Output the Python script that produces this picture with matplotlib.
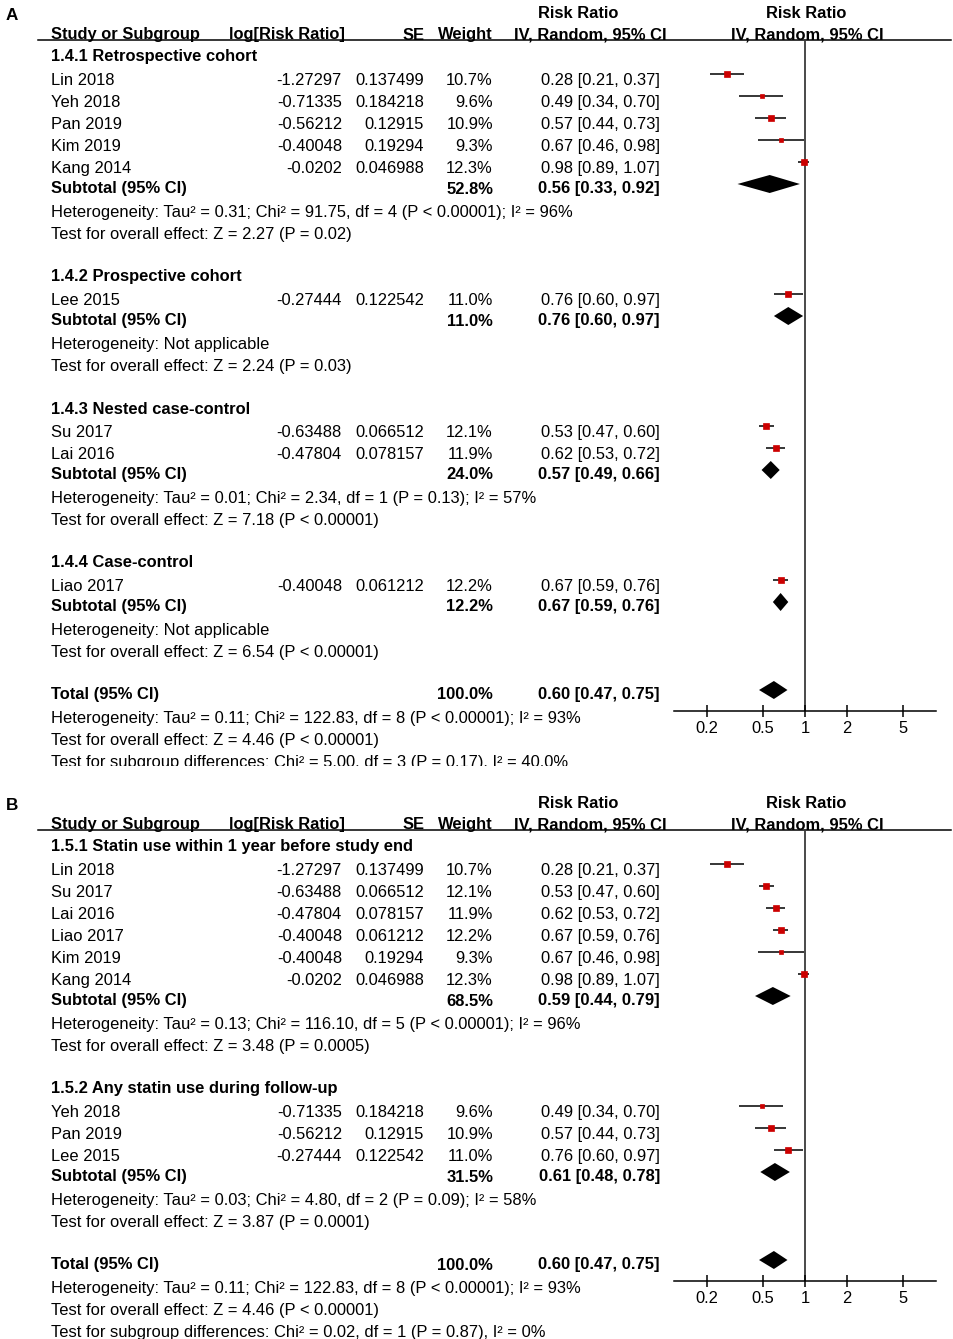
import matplotlib
matplotlib.use("Agg")
import matplotlib.pyplot as plt
from matplotlib.ticker import NullLocator

plt.rcParams['font.family'] = ['Liberation Sans', 'DejaVu Sans']
FS = 11.85
W, H = 954, 1339
ROW = 22.0          # pixels between rows
MARK_DY = -3.0 / ROW

# the nine studies (used by both panels)
studies = ["Lin 2018", "Yeh 2018", "Pan 2019", "Kim 2019", "Kang 2014",
           "Lee 2015", "Su 2017", "Lai 2016", "Liao 2017"]
log_rr = ["-1.27297", "-0.71335", "-0.56212", "-0.40048", "-0.0202",
          "-0.27444", "-0.63488", "-0.47804", "-0.40048"]
se = ["0.137499", "0.184218", "0.12915", "0.19294", "0.046988",
      "0.122542", "0.066512", "0.078157", "0.061212"]
weight = [10.7, 9.6, 10.9, 9.3, 12.3, 11.0, 12.1, 11.9, 12.2]
rr = [0.28, 0.49, 0.57, 0.67, 0.98, 0.76, 0.53, 0.62, 0.67]
rr_lo = [0.21, 0.34, 0.44, 0.46, 0.89, 0.60, 0.47, 0.53, 0.59]
rr_hi = [0.37, 0.70, 0.73, 0.98, 1.07, 0.97, 0.60, 0.72, 0.76]

# panel A: by study design
a_titles = ["1.4.1 Retrospective cohort", "1.4.2 Prospective cohort",
            "1.4.3 Nested case-control", "1.4.4 Case-control"]
a_members = [["Lin 2018", "Yeh 2018", "Pan 2019", "Kim 2019", "Kang 2014"],
             ["Lee 2015"], ["Su 2017", "Lai 2016"], ["Liao 2017"]]
a_sub_w = ["52.8%", "11.0%", "24.0%", "12.2%"]
a_sub_rr = [0.56, 0.76, 0.57, 0.67]
a_sub_lo = [0.33, 0.60, 0.49, 0.59]
a_sub_hi = [0.92, 0.97, 0.66, 0.76]
a_het = ["Heterogeneity: Tau² = 0.31; Chi² = 91.75, df = 4 (P < 0.00001); I² = 96%",
         "Heterogeneity: Not applicable",
         "Heterogeneity: Tau² = 0.01; Chi² = 2.34, df = 1 (P = 0.13); I² = 57%",
         "Heterogeneity: Not applicable"]
a_z = ["Test for overall effect: Z = 2.27 (P = 0.02)",
       "Test for overall effect: Z = 2.24 (P = 0.03)",
       "Test for overall effect: Z = 7.18 (P < 0.00001)",
       "Test for overall effect: Z = 6.54 (P < 0.00001)"]
a_subgroup = "Test for subgroup differences: Chi² = 5.00, df = 3 (P = 0.17), I² = 40.0%"

# panel B: by statin exposure window
b_titles = ["1.5.1 Statin use within 1 year before study end",
            "1.5.2 Any statin use during follow-up"]
b_members = [["Lin 2018", "Su 2017", "Lai 2016", "Liao 2017", "Kim 2019", "Kang 2014"],
             ["Yeh 2018", "Pan 2019", "Lee 2015"]]
b_sub_w = ["68.5%", "31.5%"]
b_sub_rr = [0.59, 0.61]
b_sub_lo = [0.44, 0.48]
b_sub_hi = [0.79, 0.78]
b_het = ["Heterogeneity: Tau² = 0.13; Chi² = 116.10, df = 5 (P < 0.00001); I² = 96%",
         "Heterogeneity: Tau² = 0.03; Chi² = 4.80, df = 2 (P = 0.09); I² = 58%"]
b_z = ["Test for overall effect: Z = 3.48 (P = 0.0005)",
       "Test for overall effect: Z = 3.87 (P = 0.0001)"]
b_subgroup = "Test for subgroup differences: Chi² = 0.02, df = 1 (P = 0.87), I² = 0%"

# overall (same in both panels)
tot_w = "100.0%"
tot_rr, tot_lo, tot_hi = 0.60, 0.47, 0.75
tot_het = "Heterogeneity: Tau² = 0.11; Chi² = 122.83, df = 8 (P < 0.00001); I² = 93%"
tot_z = "Test for overall effect: Z = 4.46 (P < 0.00001)"

xticks = [0.2, 0.5, 1, 2, 5]
xtick_labels = ["0.2", "0.5", "1", "2", "5"]

# column x positions (pixels)
X_NAME, X_LOG, X_SE, X_W, X_CI = 51, 342, 424, 493, 660
RED = "#cc0000"


def ci_text(r, l, h):
    return f"{r:.2f} [{l:.2f}, {h:.2f}]"


def diamond(ax, r, l, h, y):
    hh = 9.0 / ROW
    ax.fill([l, r, h, r], [y, y - hh, y, y + hh], color="black", lw=0, zorder=3)


def draw_panel(fig, label, top, bottom, y0, titles, members, sub_w,
               sub_rr, sub_lo, sub_hi, het, zs, subgroup):
    tax = fig.add_axes([0, 1 - bottom / H, 1, (bottom - top) / H])
    tax.set_xlim(0, W)
    tax.set_ylim((bottom - y0) / ROW, (top - y0) / ROW)
    tax.axis("off")

    def txt(x, r, s, ha="left", bold=False):
        dy = (2.0 if bold else 3.5) / ROW
        tax.text(x, r + dy, s, ha=ha, va="center", fontsize=FS,
                 fontweight="bold" if bold else "normal", clip_on=True)

    n_rows = sum(len(m) + 5 for m in members)
    ft = y0 - 15
    fb = y0 + ROW * n_rows + 18
    fax = fig.add_axes([674 / W, 1 - fb / H, (936 - 674) / W, (fb - ft) / H])
    fax.set_xscale("log")
    fax.set_xlim(0.1163, 8.6)
    fax.set_ylim(n_rows + 18 / ROW, -15 / ROW)
    fax.set_facecolor("none")
    for s in ("top", "left", "right"):
        fax.spines[s].set_visible(False)
    fax.spines["bottom"].set_linewidth(1.1)
    fax.set_yticks([])
    fax.set_xticks(xticks, labels=xtick_labels)
    fax.xaxis.set_minor_locator(NullLocator())
    fax.tick_params(axis="x", direction="inout", length=9, width=1.1,
                    labelsize=FS, pad=2.5)
    fax.axvline(1, color="#3a3a3a", lw=1.3, zorder=1)

    # header
    tax.text(6, -1.78, label, ha="left", va="center", fontsize=FS + 0.5,
             fontweight="bold")
    txt(578, -1.98, "Risk Ratio", ha="center", bold=True)
    txt(806, -1.98, "Risk Ratio", ha="center", bold=True)
    txt(X_NAME, -1.0, "Study or Subgroup", bold=True)
    txt(345, -1.0, "log[Risk Ratio]", ha="right", bold=True)
    txt(425, -1.0, "SE", ha="right", bold=True)
    txt(X_W, -1.0, "Weight", ha="right", bold=True)
    txt(590, -1.0, "IV, Random, 95% CI", ha="center", bold=True)
    txt(807, -1.0, "IV, Random, 95% CI", ha="center", bold=True)
    tax.plot([38, 951], [-15 / ROW] * 2, color="black", lw=1.1)

    r = 0
    for g, title in enumerate(titles):
        txt(X_NAME, r, title, bold=True)
        for name in members[g]:
            r += 1
            i = studies.index(name)
            txt(X_NAME, r, name)
            txt(X_LOG, r, log_rr[i], ha="right")
            txt(X_SE, r, se[i], ha="right")
            txt(X_W, r, f"{weight[i]:.1f}%", ha="right")
            txt(X_CI, r, ci_text(rr[i], rr_lo[i], rr_hi[i]), ha="right")
            y = r + MARK_DY
            fax.plot([rr_lo[i], rr_hi[i]], [y, y], color="black", lw=1.1,
                     solid_capstyle="butt", zorder=2)
            side_px = 0.3 * weight[i] + 2.5
            fax.plot([rr[i]], [y], "s", color=RED, mec=RED, mew=0.5,
                     ms=side_px * 0.72 - 0.5, snap=False, zorder=4)
        r += 1
        txt(X_NAME, r, "Subtotal (95% CI)", bold=True)
        txt(X_W, r, sub_w[g], ha="right", bold=True)
        txt(X_CI, r, ci_text(sub_rr[g], sub_lo[g], sub_hi[g]), ha="right", bold=True)
        diamond(fax, sub_rr[g], sub_lo[g], sub_hi[g], r + MARK_DY)
        txt(X_NAME, r + 1, het[g])
        txt(X_NAME, r + 2, zs[g])
        r += 4

    txt(X_NAME, r, "Total (95% CI)", bold=True)
    txt(X_W, r, tot_w, ha="right", bold=True)
    txt(X_CI, r, ci_text(tot_rr, tot_lo, tot_hi), ha="right", bold=True)
    diamond(fax, tot_rr, tot_lo, tot_hi, r + MARK_DY)
    txt(X_NAME, r + 1, tot_het)
    txt(X_NAME, r + 2, tot_z)
    txt(X_NAME, r + 3, subgroup)


fig = plt.figure(figsize=(W / 100, H / 100), dpi=100)
fig.patch.set_facecolor("white")

draw_panel(fig, "A", 0, 766, 55, a_titles, a_members, a_sub_w,
           a_sub_rr, a_sub_lo, a_sub_hi, a_het, a_z, a_subgroup)
draw_panel(fig, "B", 790, 1339, 845, b_titles, b_members, b_sub_w,
           b_sub_rr, b_sub_lo, b_sub_hi, b_het, b_z, b_subgroup)

fig.savefig("out.png", dpi=100)
